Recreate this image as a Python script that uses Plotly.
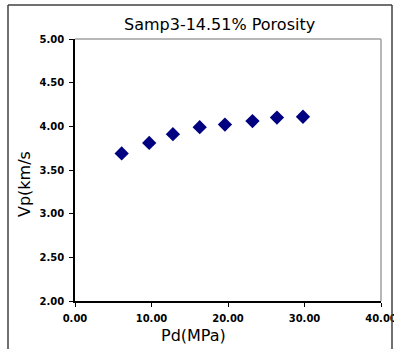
import plotly.graph_objects as go

pd_mpa = [6.1, 9.7, 12.8, 16.3, 19.6, 23.2, 26.4, 29.8]
vp = [3.69, 3.81, 3.91, 3.99, 4.02, 4.06, 4.10, 4.11]
x_ticks = [0, 10, 20, 30, 40]
x_labels = ["0.00", "10.00", "20.00", "30.00", "40.00"]
y_ticks = [2.0, 2.5, 3.0, 3.5, 4.0, 4.5, 5.0]
y_labels = ["2.00", "2.50", "3.00", "3.50", "4.00", "4.50", "5.00"]

W, H = 394, 349
L, R, T, B = 75, 13, 39, 48
PW, PH = W - L - R, H - T - B


def px(xp):
    return (xp - L) / PW


def py(yp):
    return 1 - (yp - T) / PH


fig = go.Figure()
fig.add_trace(go.Scatter(
    x=pd_mpa, y=vp, mode="markers",
    marker=dict(symbol="diamond", size=11, color="#000080"),
    showlegend=False,
))

tickfont = dict(family="DejaVu Sans", size=10, color="black", weight="bold")
frame = dict(color="#404040", width=1.5)
fig.update_layout(
    width=W, height=H,
    margin=dict(l=L, r=R, t=T, b=B, autoexpand=False),
    paper_bgcolor="white", plot_bgcolor="white",
    xaxis=dict(range=[0, 40], tickvals=x_ticks, ticktext=x_labels,
               showgrid=False, zeroline=False, showline=True, linecolor="black",
               linewidth=1.5, ticks="outside", ticklen=4, tickcolor="black",
               tickfont=tickfont, ticklabelstandoff=3, ticklabeloverflow="allow",
               automargin=False),
    yaxis=dict(range=[2, 5], tickvals=y_ticks, ticktext=y_labels,
               showgrid=False, zeroline=False, showline=True, linecolor="black",
               linewidth=1.5, ticks="outside", ticklen=4, tickcolor="black",
               tickfont=tickfont, ticklabelstandoff=3, automargin=False),
    font=dict(family="DejaVu Sans", color="black"),
    annotations=[
        dict(text="Samp3-14.51% Porosity", xref="paper", yref="paper",
             x=px(219), y=py(24), xanchor="center", yanchor="middle",
             showarrow=False,
             font=dict(size=16, family="DejaVu Sans", color="black")),
        dict(text="Pd(MPa)", xref="paper", yref="paper",
             x=px(193), y=py(335), xanchor="center", yanchor="middle",
             showarrow=False,
             font=dict(size=16, family="DejaVu Sans", color="black")),
        dict(text="Vp(km/s", xref="paper", yref="paper",
             x=px(24), y=py(184), xanchor="center", yanchor="middle",
             showarrow=False, textangle=-90,
             font=dict(size=16, family="DejaVu Sans", color="black")),
    ],
    shapes=[
        # gray top/right plot-area border
        dict(type="line", xref="paper", yref="paper", x0=0, x1=1, y0=1, y1=1,
             line=dict(color="#a0a0a0", width=1.5)),
        dict(type="line", xref="paper", yref="paper", x0=1, x1=1, y0=0, y1=1,
             line=dict(color="#a0a0a0", width=1.5)),
        # outer chart frame
        dict(type="line", xref="paper", yref="paper", x0=px(8), x1=px(392),
             y0=py(5), y1=py(5), line=frame),
        dict(type="line", xref="paper", yref="paper", x0=px(8), x1=px(8),
             y0=py(5), y1=py(352), line=frame),
        dict(type="line", xref="paper", yref="paper", x0=px(392), x1=px(392),
             y0=py(5), y1=py(352), line=frame),
    ],
)

fig.write_html("out.html", config={"displayModeBar": False},
               post_script="document.body.style.margin='0';document.body.style.overflow='hidden';")
